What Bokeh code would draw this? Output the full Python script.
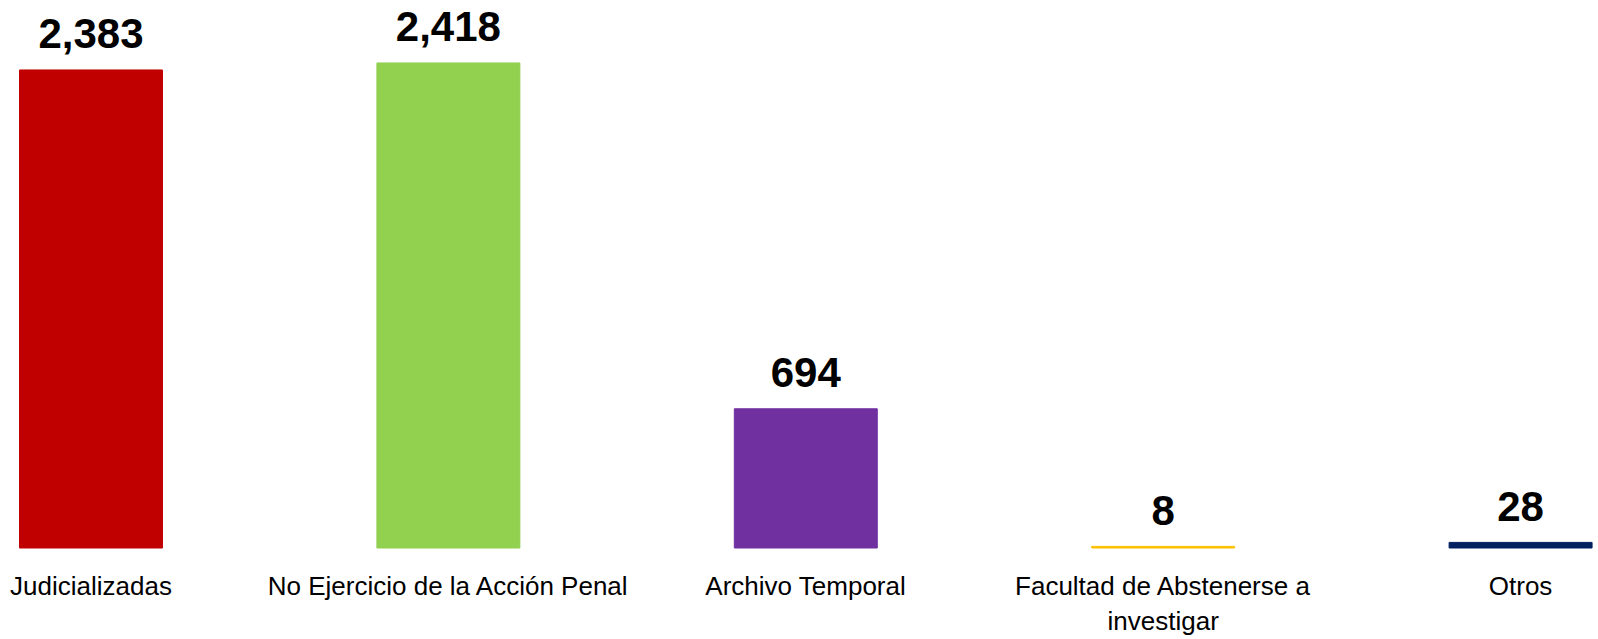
from bokeh.plotting import figure
from bokeh.models import Range1d, ColumnDataSource
from bokeh.core.properties import value
from bokeh.embed import file_html
from bokeh.resources import INLINE

categories = ["Judicializadas", "No Ejercicio de la Acción Penal", "Archivo Temporal",
              "Facultad de Abstenerse a\ninvestigar", "Otros"]
counts = [2383, 2418, 694, 8, 28]
colors = ["#C00000", "#92D050", "#7030A0", "#FFC000", "#002060"]
labels = [f"{v:,}" for v in counts]

xs = list(range(len(categories)))
src = ColumnDataSource(dict(x=xs, top=counts, color=colors, label=labels,
                            cat=categories, base=[0] * len(xs)))

W, H = 1598, 639
p = figure(width=W, height=H, output_backend="svg", toolbar_location=None,
           x_range=Range1d(-0.2532, 4.2180), y_range=Range1d(-456.1, 2729.3),
           min_border_left=0, min_border_right=0, min_border_top=0, min_border_bottom=0)
p.outline_line_color = None
p.grid.visible = False
p.axis.visible = False

p.vbar(x="x", top="top", bottom=0, width=0.4, color="color", source=src)
p.text(x="x", y="top", text="label", source=src, text_align="center",
       text_baseline="alphabetic", y_offset=-36, text_font=value("Liberation Sans"),
       text_font_style="bold", text_font_size="42px", text_color="#000000")
p.text(x="x", y="base", text="cat", source=src, text_align="center",
       text_baseline="top", y_offset=23, text_font=value("Liberation Sans"),
       text_font_size="26px", text_line_height=1.15, text_color="#000000")

open("out.html", "w").write(file_html(p, INLINE))
